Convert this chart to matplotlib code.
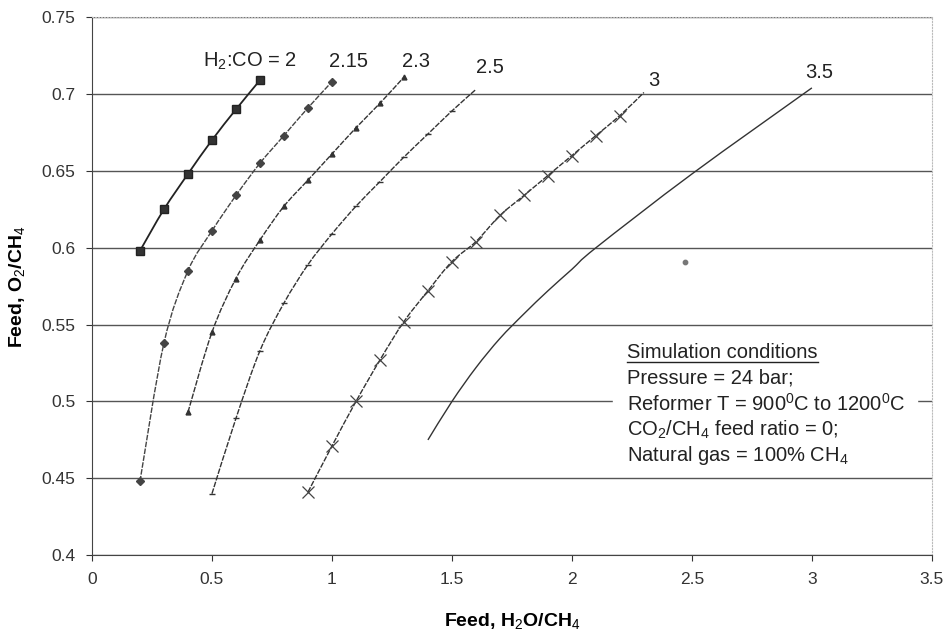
import matplotlib
matplotlib.use("Agg")
import matplotlib.pyplot as plt
import numpy as np
from matplotlib.lines import Line2D
from matplotlib.path import Path
from matplotlib.patches import PathPatch

plt.rcParams["font.family"] = ["Liberation Sans", "DejaVu Sans"]
plt.rcParams["mathtext.fontset"] = "custom"
plt.rcParams["mathtext.rm"] = "Liberation Sans"
plt.rcParams["mathtext.it"] = "Liberation Sans:italic"
plt.rcParams["mathtext.bf"] = "Liberation Sans:bold"

# H2:CO = 2 (squares)
x_20 = [0.2, 0.3, 0.4, 0.5, 0.6, 0.7]
y_20 = [0.598, 0.625, 0.648, 0.670, 0.690, 0.709]

# H2:CO = 2.15 (diamonds)
x_215 = [0.2, 0.3, 0.4, 0.5, 0.6, 0.7, 0.8, 0.9, 1.0]
y_215 = [0.448, 0.538, 0.585, 0.611, 0.634, 0.655, 0.673, 0.691, 0.708]

# H2:CO = 2.3 (triangles)
x_23 = [0.4, 0.5, 0.6, 0.7, 0.8, 0.9, 1.0, 1.1, 1.2, 1.3]
y_23 = [0.493, 0.545, 0.580, 0.605, 0.627, 0.644, 0.661, 0.678, 0.694, 0.711]

# H2:CO = 2.5 (dashes)
x_25 = [0.5, 0.6, 0.7, 0.8, 0.9, 1.0, 1.1, 1.2, 1.3, 1.4, 1.5, 1.6]
y_25 = [0.440, 0.489, 0.533, 0.564, 0.589, 0.609, 0.627, 0.643, 0.659, 0.674, 0.689, 0.703]

# H2:CO = 3 (crosses)
x_30 = [0.9, 1.0, 1.1, 1.2, 1.3, 1.4, 1.5, 1.6, 1.7, 1.8, 1.9, 2.0, 2.1, 2.2, 2.3]
y_30 = [0.441, 0.471, 0.500, 0.527, 0.552, 0.572, 0.591, 0.604, 0.621, 0.634,
        0.647, 0.660, 0.673, 0.686, 0.701]

# H2:CO = 3.5 (plain line)
x_35 = [1.4, 1.5, 1.6, 1.7, 1.8, 1.9, 2.0, 2.1, 2.5, 3.0]
y_35 = [0.475, 0.500, 0.522, 0.541, 0.557, 0.572, 0.586, 0.600, 0.648, 0.704]

# stray speck in the scan
x_speck = [2.47]
y_speck = [0.591]

curve_labels = ["H$_2$:CO = 2", "2.15", "2.3", "2.5", "3", "3.5"]
label_x = [0.66, 1.07, 1.35, 1.66, 2.34, 3.03]
label_y = [0.721, 0.721, 0.721, 0.717, 0.709, 0.714]

y_ticks = [0.4, 0.45, 0.5, 0.55, 0.6, 0.65, 0.7, 0.75]
y_ticklabels = ["0.4", "0.45", "0.5", "0.55", "0.6", "0.65", "0.7", "0.75"]
x_ticks = [0, 0.5, 1, 1.5, 2, 2.5, 3, 3.5]
x_ticklabels = ["0", "0.5", "1", "1.5", "2", "2.5", "3", "3.5"]

notes_title = "Simulation conditions"
notes = [
    "Pressure = 24 bar;",
    "Reformer T = 900$^0$C to 1200$^0$C",
    "CO$_2$/CH$_4$ feed ratio = 0;",
    "Natural gas = 100% CH$_4$",
]


def smooth_path(xs, ys):
    """Excel-style smoothed line through the points (cubic Bezier segments)."""
    p = np.column_stack([xs, ys]).astype(float)
    verts = [p[0]]
    codes = [Path.MOVETO]
    n = len(p)
    for i in range(n - 1):
        p0 = p[i - 1] if i > 0 else p[i]
        p1, p2 = p[i], p[i + 1]
        p3 = p[i + 2] if i + 2 < n else p[i + 1]
        c1 = p1 + (p2 - p0) / 6.0
        c2 = p2 - (p3 - p1) / 6.0
        verts += [c1, c2, p2]
        codes += [Path.CURVE4] * 3
    return Path(verts, codes)


def add_curve(ax, xs, ys, color, lw, ls="-"):
    ax.add_patch(PathPatch(smooth_path(xs, ys), fill=False, edgecolor=color,
                           lw=lw, ls=ls, zorder=2))


fig = plt.figure(figsize=(9.48, 6.36), dpi=100)
ax = fig.add_axes([0.097, 0.127, 0.886, 0.846])

ax.set_xlim(0, 3.5)
ax.set_ylim(0.4, 0.75)
ax.set_yticks(y_ticks)
ax.set_yticklabels(y_ticklabels)
ax.set_xticks(x_ticks)
ax.set_xticklabels(x_ticklabels)
ax.tick_params(labelsize=12.5, colors="#333333", direction="out", length=4, pad=8)
ax.yaxis.grid(True, color="#555555", linewidth=1.0)
ax.set_axisbelow(True)
for s in ["left", "bottom"]:
    ax.spines[s].set_color("#444444")
for s in ["top", "right"]:
    ax.spines[s].set_color("#bbbbbb")
    ax.spines[s].set_linestyle(":")

dash = (0, (4, 1))
add_curve(ax, x_20, y_20, "#222222", 1.3)
ax.plot(x_20, y_20, ls="none", marker="s", ms=6, mfc="#333333", mec="#222222")

add_curve(ax, x_215, y_215, "#444444", 1.0, dash)
ax.plot(x_215, y_215, ls="none", marker="D", ms=4.5, mfc="#444444", mec="#444444")

add_curve(ax, x_23, y_23, "#333333", 1.0, dash)
ax.plot(x_23, y_23, ls="none", marker="^", ms=3.5, mfc="#333333", mec="#333333")

add_curve(ax, x_25, y_25, "#333333", 1.0, dash)
ax.plot(x_25[:-1], y_25[:-1], ls="none", marker="_", ms=5, mec="#333333")

add_curve(ax, x_30, y_30, "#333333", 1.0, dash)
ax.plot(x_30[:-1], y_30[:-1], ls="none", marker="x", ms=9, mew=0.9, mec="#444444")

add_curve(ax, x_35, y_35, "#333333", 1.0)
ax.scatter(x_speck, y_speck, s=10, color="#777777", zorder=3)

for t, lx, ly in zip(curve_labels, label_x, label_y):
    ax.text(lx, ly, t, fontsize=14.5, color="#222222", ha="center", va="center")

ax.set_xlabel("Feed, H$_2$O/CH$_4$", fontsize=14, fontweight="bold", labelpad=17)
ax.set_ylabel("Feed, O$_2$/CH$_4$", fontsize=14, fontweight="bold", labelpad=10)

# white block behind the notes
ax.fill_between([2.17, 3.44], 0.466, 0.543, color="white", zorder=1.5)

tt = ax.text(2.23, 0.532, notes_title, fontsize=14.5, color="#222222",
             ha="left", va="center", zorder=3)
for i, line in enumerate(notes):
    ax.text(2.23, 0.532 - 0.0168 * (i + 1), line, fontsize=14.5, color="#222222",
            ha="left", va="center", zorder=3)

# underline the notes title
fig.canvas.draw()
bb = tt.get_window_extent().transformed(ax.transData.inverted())
ax.add_line(Line2D([bb.x0, bb.x1], [bb.y0 - 0.0003, bb.y0 - 0.0003],
                   color="#222222", lw=1.0, zorder=3))

fig.savefig("out.png", dpi=100)
